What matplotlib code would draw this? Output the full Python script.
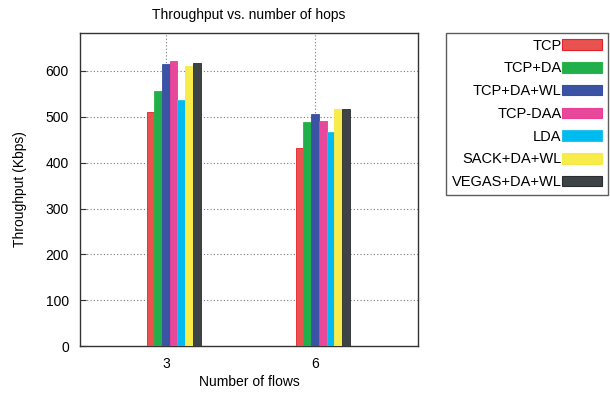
import numpy as np
import matplotlib
matplotlib.use('Agg')
import matplotlib.pyplot as plt
from matplotlib.patches import Patch

# throughput per scheme, for 3 and 6 flows
flows = [3, 6]
schemes = ['TCP', 'TCP+DA', 'TCP+DA+WL', 'TCP-DAA', 'LDA', 'SACK+DA+WL', 'VEGAS+DA+WL']
tcp = [510, 432]
tcp_da = [557, 489]
tcp_da_wl = [615, 506]
tcp_daa = [621, 491]
lda = [537, 467]
sack_da_wl = [611, 517]
vegas_da_wl = [618, 517]

colors = ['#E8524F', '#21AF4B', '#3A53A4', '#E8489A', '#00BBEF', '#F8EC4A', '#3E4446']
edges = ['#E62028', '#2DB34A', '#3B4FA0', '#EA3E97', '#29C1F0', '#F7E94A', '#2A2E30']

series = [tcp, tcp_da, tcp_da_wl, tcp_daa, lda, sack_da_wl, vegas_da_wl]

plt.rcParams['font.family'] = ['Liberation Sans', 'DejaVu Sans']
fig = plt.figure(figsize=(6.1, 4.01), dpi=100)
ax = fig.add_axes([0.131, 0.137, 0.554, 0.781])

w = 0.155
x = np.array(flows, dtype=float)
handles = []
for i, vals in enumerate(series):
    ax.bar(x + (i - 2) * w, vals, width=w, color=colors[i], edgecolor=edges[i],
           linewidth=0.6, zorder=3)
    handles.append(Patch(facecolor=colors[i], edgecolor=edges[i], linewidth=0.8))

ax.set_xlim(1.27, 8.07)
ax.set_ylim(0, 683)
ax.set_xticks(flows)
ax.set_yticks(range(0, 700, 100))
ax.grid(True, linestyle=(0, (1, 2)), color='#777777', linewidth=0.8, zorder=0)
ax.tick_params(labelsize=10, direction='in', length=4, color='#333333', pad=8)
for s in ax.spines.values():
    s.set_color('#333333')
    s.set_linewidth(1.0)

ax.set_title('Throughput vs. number of hops', fontsize=10, pad=10)
ax.set_xlabel('Number of flows', fontsize=10, labelpad=3)
ax.set_ylabel('Throughput (Kbps)', fontsize=10, labelpad=13)

leg = fig.legend(handles, schemes, loc='upper left', bbox_to_anchor=(0.731, 0.918),
                 markerfirst=False, fontsize=10.5, frameon=True, fancybox=False,
                 edgecolor='#333333', handlelength=2.7, handleheight=0.75,
                 handletextpad=0.05, labelspacing=0.6, borderpad=0.4,
                 borderaxespad=0, alignment='right')
leg.get_frame().set_linewidth(1.0)
for t in leg.get_texts():
    t.set_ha('right')

fig.savefig('out.png', dpi=100)
